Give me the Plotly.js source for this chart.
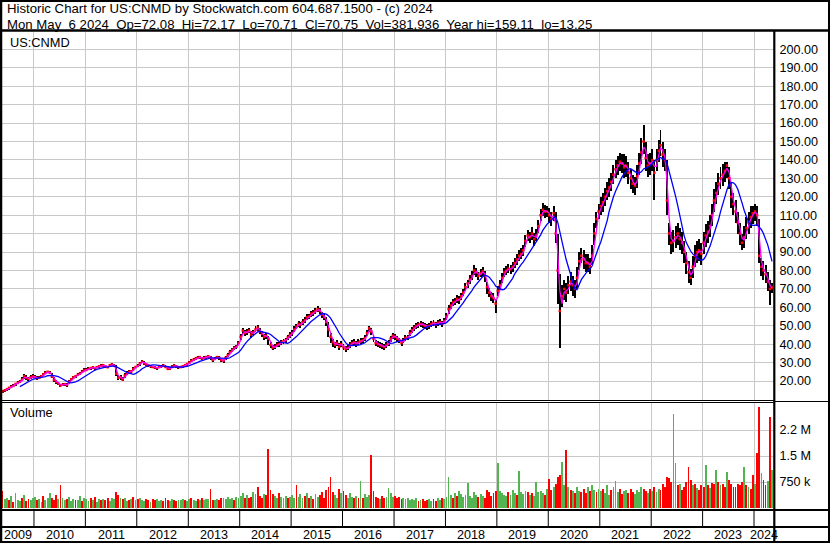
<!DOCTYPE html>
<html><head><meta charset="utf-8">
<script src="https://cdn.plot.ly/plotly-3.0.1.min.js"></script>
<style>html,body{margin:0;padding:0;background:#fff;overflow:hidden}</style>
</head><body><div id="chart" style="width:830px;height:543px"></div>
<script>
// ---------- DATA (semi-monthly bars, May 2009 H2 .. May 2024 H1) ----------
const symbol = 'US:CNMD';
const headerLine1 = 'Historic Chart for US:CNMD by Stockwatch.com 604.687.1500 - (c) 2024';
const headerLine2 = 'Mon May\u00a0 6 2024\u00a0 Op=72.08\u00a0 Hi=72.17\u00a0 Lo=70.71\u00a0 Cl=70.75\u00a0 Vol=381,936\u00a0 Year hi=159.11\u00a0 lo=13.25';
const years = ['2009','2010','2011','2012','2013','2014','2015','2016','2017','2018','2019','2020','2021','2022','2023','2024'];
const priceTicks = [20,30,40,50,60,70,80,90,100,110,120,130,140,150,160,170,180,190,200];
const volTicks = [750000, 1500000, 2250000];
const volTickText = ['750 k', '1.5 M', '2.2 M'];
const firstPeriod = {year: 2009, month: 5, half: 2};

const closes = [
 14.3,15.0,15.6,16.3,16.8,17.4,18.4,19.0,19.6,20.8,22.6,21.6,21.2,22.0,22.6,
 22.2,21.5,21.8,22.6,23.6,24.4,25.0,24.5,22.4,20.5,19.5,18.6,17.6,18.0,18.3,17.8,19.6,21.0,22.0,22.6,23.4,24.0,25.0,26.0,
 26.0,26.6,27.0,27.4,27.0,27.5,28.0,28.2,28.6,28.0,27.5,28.5,29.0,28.4,24.0,21.8,22.0,20.8,23.0,24.2,25.0,25.2,26.5,27.6,
 28.2,29.5,30.5,29.6,29.0,28.6,28.0,27.6,27.4,27.0,27.6,28.0,28.4,27.6,26.6,26.8,27.8,28.4,28.0,27.4,27.6,28.0,28.6,29.2,
 30.0,31.0,31.6,32.2,32.6,33.0,32.2,32.6,33.0,33.4,32.6,31.4,32.0,33.0,32.6,31.4,31.0,32.6,34.0,35.6,37.0,38.0,38.6,40.6,
 44.0,47.4,46.0,46.6,47.4,45.2,46.4,48.0,49.0,47.0,45.6,44.0,44.6,43.0,39.6,38.0,38.6,39.6,40.0,41.0,41.6,42.2,43.6,45.0,
 46.0,48.0,49.6,51.0,50.6,52.0,53.0,54.6,55.0,56.6,57.0,58.0,59.0,58.2,56.0,54.6,52.0,48.0,44.0,41.0,39.6,40.6,38.6,40.0,
 38.4,37.4,38.0,39.6,40.6,41.0,40.0,41.0,41.6,42.0,43.2,46.0,48.6,47.0,43.0,40.6,40.0,39.4,39.0,38.4,39.6,40.6,43.0,44.6,
 44.0,43.0,42.0,40.6,42.0,43.4,43.6,46.0,47.6,49.0,50.0,50.6,51.0,50.6,50.0,49.4,50.0,51.0,51.6,50.6,51.6,52.0,51.0,52.6,
 55.0,59.0,61.0,62.6,63.0,64.6,64.0,66.0,68.0,71.0,73.0,75.0,77.0,80.0,79.0,77.0,78.6,79.6,77.0,71.0,68.0,66.0,65.0,62.0,
 69.0,72.0,76.0,79.0,80.0,81.0,80.6,82.0,84.0,86.0,88.0,89.0,91.0,96.0,99.0,98.0,100.0,97.0,99.0,104.0,110.0,113.0,112.0,112.0,
 110,108,111,100,80,58,66,70,68,72,74,72,70,76,85,88,86,84,84,82,88,100,108,112,
 115,117,120,123,125,128,132,135,137,139,138,136,137,133,130,127,126,131,138,144,150,141,137,138,
 140,133,140,145,148,143,140,118,100,95,96,98,100,97,95,90,84,79,76,82,88,90,91,89,
 95,99,101,104,110,118,122,127,130,132,134,137,130,120,116,112,106,100,95,98,103,106,109,111,
 112,110,88,82,80,78,74,70,70.75
];
const highs = [
 15.2,15.8,16.4,17.0,17.6,18.2,19.2,19.8,20.5,22.0,24.0,23.0,22.2,23.0,23.6,
 23.0,22.6,22.6,23.4,24.4,25.2,25.6,25.4,24.6,22.0,20.4,19.6,18.6,18.8,19.2,18.8,20.4,21.8,22.8,23.4,24.2,24.8,25.8,26.8,
 26.8,27.4,27.8,28.2,27.8,28.2,28.8,29.0,29.4,28.8,28.4,29.3,29.8,29.4,28.5,23.5,23.2,22.2,24.2,25.2,26.0,26.2,27.4,28.4,
 29.0,30.4,31.2,30.6,29.8,29.4,28.8,28.4,28.2,27.8,28.4,28.8,29.2,28.6,27.6,27.6,28.6,29.2,28.8,28.2,28.4,28.8,29.4,30.0,
 30.8,31.8,32.4,33.0,33.4,33.8,33.0,33.4,33.8,34.2,33.6,32.4,32.8,33.8,33.6,32.4,32.0,33.6,35.0,36.6,38.0,39.2,39.6,41.8,
 45.6,49.0,47.6,48.0,49.0,47.0,47.8,49.6,50.6,48.6,47.0,45.6,46.0,44.6,41.4,39.6,40.0,41.0,41.4,42.4,43.0,43.6,45.0,46.4,
 47.6,49.6,51.2,52.6,52.2,53.6,54.6,56.2,56.6,58.2,58.6,59.6,60.5,59.8,57.6,56.2,54.6,52.0,46.0,43.0,41.4,42.4,40.4,41.8,
 40.2,39.2,39.8,41.2,42.2,42.6,41.6,42.6,43.2,43.6,45.0,47.8,50.0,48.8,44.8,42.4,41.6,41.0,40.6,40.0,41.2,42.2,44.6,46.2,
 45.6,44.6,43.6,42.2,43.6,45.0,45.2,47.6,49.2,50.6,51.6,52.2,52.6,52.2,51.6,51.0,51.6,52.6,53.2,52.2,53.2,53.6,52.6,54.2,
 57.0,61.0,63.0,64.6,65.0,66.6,66.0,68.0,70.0,73.0,75.0,77.4,79.6,83.0,81.4,79.4,81.0,82.0,79.6,74.0,70.4,68.4,67.6,64.6,
 71.6,74.6,78.6,81.6,82.6,83.6,83.2,84.6,86.8,88.8,91.0,92.0,94.0,99.0,102.0,101.0,103.6,100.4,102.4,107.4,113.4,116.8,115.4,115.0,
 114,112,115,112,100,78,72,75,73,77,79,77,75,82,90,92,91,89,89,87,94,106,112,116,
 120,122,125,128,130,133,137,140,142,144,143,143,142,139,135,132,131,137,144,152,159,150,143,144,
 146,140,146,151,156,150,146,140,106,101,102,104,106,103,101,96,90,85,81,88,94,96,97,95,
 101,105,107,110,116,124,128,133,136,138,139,139,136,128,122,118,112,106,100,104,109,112,115,115,
 116,115,108,87,85,83,79,75,73
];
const lows = [
 13.25,14.2,14.8,15.4,16.0,16.6,17.5,18.2,18.8,19.8,21.2,20.6,20.2,21.0,21.6,
 21.4,20.8,21.0,21.8,22.8,23.6,24.2,23.6,21.6,19.6,18.6,17.6,16.6,17.2,17.4,17.0,18.6,20.2,21.2,21.8,22.6,23.2,24.2,25.2,
 25.2,25.8,26.2,26.6,26.2,26.8,27.2,27.4,27.8,27.2,26.8,27.6,28.2,27.4,22.6,20.6,20.8,20.0,21.8,23.2,24.0,24.2,25.6,26.8,
 27.4,28.4,29.6,28.8,28.2,27.8,27.2,26.8,26.6,26.2,26.8,27.2,27.6,26.8,25.8,26.0,27.0,27.6,27.2,26.6,26.8,27.2,27.8,28.4,
 29.2,30.2,30.8,31.4,31.8,32.2,31.4,31.8,32.2,32.6,31.6,30.4,31.2,32.2,31.6,30.4,30.0,31.6,33.0,34.6,36.0,37.0,37.6,39.4,
 42.4,45.6,44.6,45.0,45.8,43.6,44.8,46.4,47.4,45.4,44.0,42.4,43.0,39.6,37.8,36.6,37.2,38.2,38.6,39.6,40.2,40.8,42.2,43.4,
 44.6,46.4,48.0,49.4,49.0,50.4,51.4,53.0,53.4,55.0,55.4,56.4,57.4,56.6,54.4,53.0,49.6,44.0,40.4,38.6,37.8,38.8,36.8,38.2,
 36.8,36.0,36.6,38.0,39.0,39.4,38.4,39.4,40.0,40.4,41.6,44.2,46.8,45.0,41.0,38.8,38.4,37.8,37.4,36.8,38.0,39.0,41.2,43.0,
 42.4,41.4,40.4,39.0,40.4,41.8,42.0,44.4,46.0,47.4,48.4,49.0,49.4,49.0,48.4,47.8,48.4,49.4,50.0,49.0,50.0,50.4,49.4,51.0,
 53.0,56.6,59.0,60.6,61.0,62.6,62.0,64.0,66.0,68.6,70.6,72.6,74.6,77.4,76.6,74.6,76.2,77.2,74.0,67.0,65.4,63.4,62.4,57.0,
 66.0,69.4,73.4,76.4,77.4,78.4,78.0,79.4,81.2,83.2,85.0,86.0,88.0,93.0,96.0,95.0,96.6,93.4,95.8,100.6,106.6,109.6,108.6,108.8,
 106,104,107,95,62,38,60,64,63,67,69,66,65,70,80,84,81,79,79,78,83,94,103,108,
 110,112,115,118,120,123,127,130,132,134,133,130,131,127,124,122,121,125,132,138,143,134,131,132,
 134,118,134,139,142,136,134,110,94,89,90,92,94,91,89,84,78,73,72,76,82,84,85,83,
 89,93,95,98,104,112,116,121,124,126,128,130,124,114,110,106,100,94,91,92,97,100,103,105,
 107,104,84,77,75,73,69,61,68
];
// representative daily volume, thousands of shares
const volumes = [
 480,260,300,220,350,180,420,240,200,300,380,190,250,230,300,
 310,220,260,180,350,240,300,420,280,230,380,250,660,300,220,260,310,200,270,230,240,350,210,280,
 260,200,290,230,310,180,250,220,270,240,300,200,280,260,450,380,300,250,280,200,240,270,310,230,
 260,300,240,200,270,230,180,250,220,260,200,230,210,280,240,190,260,220,200,240,230,270,220,190,
 250,280,230,200,260,240,300,220,250,270,560,240,220,260,230,280,300,260,320,270,290,240,310,280,
 350,420,300,380,280,330,450,390,620,360,300,400,380,1710,520,400,350,300,420,330,280,360,300,320,
 380,300,650,330,400,280,360,420,300,350,270,400,320,380,450,300,520,600,900,450,380,300,560,420,
 500,380,300,420,330,280,350,300,780,300,400,320,380,1540,480,320,300,270,350,290,310,580,420,330,
 350,290,320,260,300,250,280,230,270,220,300,200,240,260,200,230,270,190,250,210,280,230,300,260,
 320,900,380,300,420,350,500,400,330,380,730,350,300,450,380,320,400,360,300,520,450,350,420,480,
 1300,500,420,380,350,450,380,520,420,380,1070,450,400,500,450,380,420,360,750,450,500,420,380,550,
 850,520,600,700,900,950,1330,650,1670,600,520,480,420,620,500,450,560,420,600,480,650,520,460,540,
 480,560,420,650,380,520,600,780,450,560,400,480,520,420,560,450,400,520,460,600,540,480,420,560,
 500,620,450,560,520,700,600,900,880,750,2720,1310,650,700,520,620,750,1170,800,650,700,580,520,650,
 600,1250,650,580,720,680,1090,750,650,700,600,1040,800,680,620,600,700,650,750,1180,650,600,560,950,
 700,1590,2910,1000,820,650,780,2620,1100
];
// bar colour of each volume bar as seen in the picture: g = up (green), r = down (red)
const volDirection =
 'rggrgrgggrgrrgg' +
 'grggrgggrrrgrggrgggrggrg' + 'ggrgrggrgrrgggrrgrggrgrg' + 'rgggrrgrrgggrrrggrrgggrg' +
 'grggrgrgggrrggrrgggggrgg' + 'ggrgrrggrrrgrrrrggrgggrg' + 'ggrgggrgrgrggrrrrrrrggrg' +
 'rrgggrgrgrgggrrrrgrrgggg' + 'rrrrgggggggrgrrrggrrggrg' + 'gggrgrgggggggggrggrrrrrr' +
 'gggggrgggrggggrgrgggggrg' + 'rrgrrrggrgrgrggrrrgrggrg' + 'grgggrgggrrggrrrggggrrgr' +
 'grggrrrrrrggrgrrrrrgrgrr' + 'rgrgrrgrgrrgrrrrrrrgrgrr' + 'grrgrrgrg';
const shortMA = 2;   // periods
const longMA = 9;    // periods

// ---------- helpers ----------
const W = 830, H = 543;
const px = x => x / W;
const py = y => 1 - y / H;
const pad = n => String(n).padStart(2, '0');
const dates = closes.map((_, i) => {
  const k = i + (firstPeriod.half - 1);
  const d = new Date(Date.UTC(firstPeriod.year, firstPeriod.month - 1 + Math.floor(k / 2), (k % 2) ? 23 : 8));
  return d.getUTCFullYear() + '-' + pad(d.getUTCMonth() + 1) + '-' + pad(d.getUTCDate());
});
function sma(arr, n) {
  return arr.map((_, i) => {
    if (i < n - 1) return null;
    let s = 0; for (let j = i - n + 1; j <= i; j++) s += arr[j];
    return s / n;
  });
}
const RANGE = ['2009-05-19', '2024-05-22'];
const FONT = '"Liberation Sans", Arial, sans-serif';
const DAY = 86400000;

const volColors = volumes.map((_, i) => volDirection[i] === 'r' ? '#ff0000' : '#52b552');

const traces = [
  {type: 'bar', x: dates, y: highs.map((h, i) => h - lows[i]), base: lows, width: 14 * DAY,
   marker: {color: '#000000', line: {width: 0}}, xaxis: 'x', yaxis: 'y', hoverinfo: 'skip'},
  {type: 'scatter', mode: 'markers', x: dates, y: closes, xaxis: 'x', yaxis: 'y',
   marker: {symbol: 'square', size: 2.5, color: '#ff0000', line: {width: 0}}, hoverinfo: 'skip'},
  {type: 'scatter', mode: 'lines', x: dates, y: sma(closes, shortMA), xaxis: 'x', yaxis: 'y',
   line: {color: '#ff00ff', width: 1.3}, hoverinfo: 'skip'},
  {type: 'scatter', mode: 'lines', x: dates, y: sma(closes, longMA), xaxis: 'x', yaxis: 'y',
   line: {color: '#0000ff', width: 1.3}, hoverinfo: 'skip'},
  {type: 'bar', x: dates, y: volumes.map(v => v * 1000), width: 13 * DAY,
   marker: {color: volColors, line: {width: 0}}, xaxis: 'x2', yaxis: 'y2', hoverinfo: 'skip'}
];

const gridX = {type: 'date', range: RANGE, domain: [px(2), px(774)], showgrid: true, gridcolor: '#c8c8c8', gridwidth: 1,
  tick0: '2010-01-01', dtick: 'M12', showticklabels: false, ticks: '', zeroline: false, showline: false, fixedrange: true};

const shapes = [];
const L = (x0, y0, x1, y1, w) => shapes.push({type: 'line', xref: 'paper', yref: 'paper', x0: px(x0), y0: py(y0), x1: px(x1), y1: py(y1), line: {color: '#000', width: w}});
L(0, 1, 830, 1, 2);        // top border
L(1, 0, 1, 543, 2.5);      // left border
L(829, 0, 829, 543, 2);    // right border
L(0, 542, 830, 542, 2);    // bottom border
L(0, 30.5, 830, 30.5, 2.5);  // header separator
L(774.3, 30, 774.3, 543, 2.2); // axis column separator
L(2, 400.5, 774, 400.5, 1);  // double line between panels
L(2, 402.5, 774, 402.5, 1);
L(774, 401.5, 830, 401.5, 1.2);
L(0, 510, 830, 510, 2);    // bottom of volume panel
L(0, 527, 830, 527, 2);    // bottom of tick row
years.slice(1).forEach(yv => shapes.push({type: 'line', xref: 'x', yref: 'paper', x0: yv + '-01-01', x1: yv + '-01-01',
  y0: py(527), y1: py(510), line: {color: '#000', width: 1}}));

const r0 = Date.parse(RANGE[0]), r1 = Date.parse(RANGE[1]);
const annotations = [
  {xref: 'paper', yref: 'paper', x: px(5), y: py(8.5), xanchor: 'left', yanchor: 'middle', showarrow: false, text: headerLine1, font: {family: FONT, size: 13.2, color: '#000'}},
  {xref: 'paper', yref: 'paper', x: px(5), y: py(24), xanchor: 'left', yanchor: 'middle', showarrow: false, text: headerLine2, font: {family: FONT, size: 13.2, color: '#000'}},
  {xref: 'paper', yref: 'paper', x: px(8), y: py(42), xanchor: 'left', yanchor: 'middle', showarrow: false, text: symbol, font: {family: FONT, size: 12.8, color: '#000'}},
  {xref: 'paper', yref: 'paper', x: px(8), y: py(413), xanchor: 'left', yanchor: 'middle', showarrow: false, text: 'Volume', font: {family: FONT, size: 12.8, color: '#000'}}
];
years.forEach(yv => {
  const a = Math.max(Date.parse(yv + '-01-01'), r0);
  const b = Math.min(Date.parse((+yv + 1) + '-01-01'), r1);
  annotations.push({xref: 'x', yref: 'paper', x: new Date((a + b) / 2).toISOString().slice(0, 10), y: py(535),
    xanchor: 'center', yanchor: 'middle', showarrow: false, text: yv, font: {family: FONT, size: 12.6, color: '#000'}});
});

const layout = {
  width: W, height: H, margin: {l: 0, r: 0, t: 0, b: 0}, paper_bgcolor: '#fff', plot_bgcolor: '#fff',
  showlegend: false, bargap: 0, font: {family: FONT, color: '#000'},
  xaxis: Object.assign({}, gridX, {anchor: 'y'}),
  xaxis2: Object.assign({}, gridX, {anchor: 'y2', matches: 'x'}),
  yaxis: {domain: [py(400), py(31.5)], range: [9.7, 209.7], side: 'right', anchor: 'x', tickvals: priceTicks,
    tickformat: '.2f', ticks: 'outside', ticklen: 2, tickcolor: 'rgba(0,0,0,0)', tickfont: {family: FONT, size: 12.6, color: '#000'},
    showgrid: true, gridcolor: '#c8c8c8', gridwidth: 1, zeroline: false, showline: false, fixedrange: true},
  yaxis2: {domain: [py(509), py(403)], range: [-28800, 3029000], side: 'right', anchor: 'x2', tickvals: volTicks, ticktext: volTickText,
    ticks: 'outside', ticklen: 2, tickcolor: 'rgba(0,0,0,0)', tickfont: {family: FONT, size: 12.6, color: '#000'},
    showgrid: true, gridcolor: '#c8c8c8', gridwidth: 1, zeroline: false, showline: false, fixedrange: true},
  shapes: shapes, annotations: annotations
};
Plotly.newPlot('chart', traces, layout, {staticPlot: true, displayModeBar: false});
</script></body></html>
